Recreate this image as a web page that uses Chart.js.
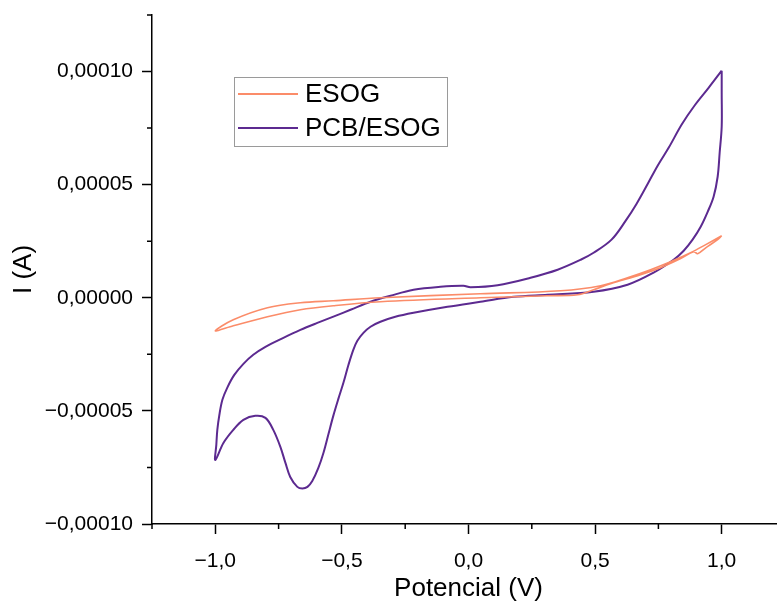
<!DOCTYPE html>
<html>
<head>
<meta charset="utf-8">
<title>Voltametria cíclica</title>
<script src="https://cdn.jsdelivr.net/npm/chart.js@4.4.1/dist/chart.umd.min.js"></script>
<style>
  html, body { margin: 0; padding: 0; background: #fff; overflow: hidden; }
  #wrap { width: 785px; height: 604px; }
</style>
</head>
<body>
<div id="wrap"><canvas id="cv" width="785" height="604"></canvas></div>
<script>
// Potential (V) and current (A) along the closed voltammogram of each electrode
const esogPotential = [1.000, 0.984, 0.937, 0.905, 0.889, 0.838, 0.759, 0.680, 0.561, 0.494, 0.431, 0.312, 0.047,
  -0.348, -0.534, -0.664, -0.794, -0.929, -1.000, -0.929, -0.794, -0.664, -0.534, -0.348, 0.047, 0.364, 0.522,
  0.628, 0.719, 0.798, 0.877, 0.937, 1.000];
const esogCurrent = [2.74e-5, 2.57e-5, 2.21e-5, 1.95e-5, 2.04e-5, 1.73e-5, 1.33e-5, 1.02e-5, 6.2e-6, 3.54e-6, 1.33e-6, 8.9e-7, 0,
  -1.77e-6, -3.54e-6, -5.31e-6, -8.41e-6, -1.24e-5, -1.46e-5, -9.74e-6, -4.43e-6, -2.21e-6, -1.33e-6, 0, 1.77e-6, 3.1e-6, 5.31e-6,
  8.85e-6, 1.24e-5, 1.59e-5, 1.99e-5, 2.35e-5, 2.74e-5];

const pcbPotential = [1.000, 1.000, 1.000, 0.992, 0.984, 0.968, 0.945, 0.917, 0.885, 0.850,
  0.810, 0.731, 0.628, 0.494, 0.312, 0.178, 0.047, -0.083, -0.217, -0.289,
  -0.348, -0.387, -0.415, -0.439, -0.455, -0.474, -0.494, -0.514, -0.534, -0.553,
  -0.573, -0.593, -0.617, -0.636, -0.656, -0.676, -0.704, -0.723, -0.743, -0.771,
  -0.802, -0.842, -0.889, -0.929, -0.968, -1.000, -0.996, -0.992, -0.984, -0.972,
  -0.953, -0.925, -0.889, -0.850, -0.802, -0.731, -0.664, -0.597, -0.526, -0.466,
  -0.387, -0.308, -0.217, -0.111, -0.020, 0.008, 0.115, 0.245, 0.352, 0.443,
  0.494, 0.565, 0.621, 0.664, 0.708, 0.747, 0.791, 0.842, 0.893, 0.949, 1.000];
const pcbCurrent = [1.004e-4, 9.07e-5, 7.57e-5, 6.42e-5, 5.35e-5, 4.47e-5, 3.81e-5, 3.14e-5, 2.57e-5, 2.08e-5,
  1.68e-5, 1.11e-5, 5.75e-6, 2.66e-6, 1.33e-6, 4.4e-7, -1.77e-6, -3.98e-6, -6.64e-6, -8.41e-6,
  -1.06e-5, -1.28e-5, -1.55e-5, -1.90e-5, -2.30e-5, -2.96e-5, -3.76e-5, -4.47e-5, -5.22e-5, -6.02e-5,
  -6.86e-5, -7.52e-5, -8.10e-5, -8.36e-5, -8.43e-5, -8.36e-5, -7.92e-5, -7.30e-5, -6.59e-5, -5.84e-5,
  -5.31e-5, -5.22e-5, -5.40e-5, -5.84e-5, -6.42e-5, -7.17e-5, -6.50e-5, -5.84e-5, -5.18e-5, -4.51e-5,
  -3.98e-5, -3.41e-5, -2.92e-5, -2.52e-5, -2.17e-5, -1.77e-5, -1.42e-5, -1.11e-5, -7.97e-6, -5.31e-6,
  -1.77e-6, 8.9e-7, 3.54e-6, 4.87e-6, 5.31e-6, 4.65e-6, 5.53e-6, 8.85e-6, 1.24e-5, 1.68e-5,
  1.99e-5, 2.57e-5, 3.41e-5, 4.16e-5, 5.04e-5, 5.84e-5, 6.64e-5, 7.66e-5, 8.50e-5, 9.29e-5, 1.004e-4];

const seriesNames = ['ESOG', 'PCB/ESOG'];
const xTicks = [-1.0, -0.5, 0.0, 0.5, 1.0];
const xMinorTicks = [-1.25, -0.75, -0.25, 0.25, 0.75, 1.25];
const yTicks = [-0.0001, -0.00005, 0, 0.00005, 0.0001];
const yMinorTicks = [-0.000075, -0.000025, 0.000025, 0.000075, 0.000125];

const FONT = "'Liberation Sans', Arial, sans-serif";
const COLORS = ['#fb8c69', '#5c2a90'];

function pairs(xs, ys) { return xs.map((x, i) => ({ x: x, y: ys[i] })); }
function decimalComma(v, digits) {
  const s = Math.abs(v).toFixed(digits).replace('.', ',');
  return (v < -1e-12 ? '\u2212' : '') + s;
}

// Minor tick marks on both axes plus the boxed legend inside the plot
const extras = {
  id: 'extras',
  afterDraw(chart) {
    const ctx = chart.ctx;
    const xs = chart.scales.x, ys = chart.scales.y;
    const area = chart.chartArea;
    ctx.save();
    ctx.strokeStyle = '#000';
    ctx.lineWidth = 1.5;
    ctx.beginPath();
    xMinorTicks.forEach(v => {
      const px = xs.getPixelForValue(v);
      ctx.moveTo(px, area.bottom); ctx.lineTo(px, area.bottom + 5);
    });
    yMinorTicks.forEach(v => {
      const py = ys.getPixelForValue(v);
      ctx.moveTo(area.left, py); ctx.lineTo(area.left - 5, py);
    });
    ctx.stroke();

    // legend
    const bx = 234.5, by = 77.5, bw = 213, bh = 69;
    ctx.strokeStyle = '#9a9a9a';
    ctx.lineWidth = 1;
    ctx.strokeRect(bx, by, bw, bh);
    ctx.font = '26px ' + FONT;
    ctx.textBaseline = 'middle';
    ctx.textAlign = 'left';
    chart.data.datasets.forEach((ds, i) => {
      const ly = 94 + i * 34;
      ctx.strokeStyle = ds.borderColor;
      ctx.lineWidth = 2;
      ctx.beginPath();
      ctx.moveTo(238, ly); ctx.lineTo(298, ly);
      ctx.stroke();
      ctx.fillStyle = '#000';
      ctx.fillText(ds.label, 305, ly + 1);
    });
    ctx.restore();
  }
};

new Chart(document.getElementById('cv'), {
  type: 'scatter',
  data: {
    datasets: [
      { label: seriesNames[0], data: pairs(esogPotential, esogCurrent), borderColor: COLORS[0],
        borderWidth: 1.6, showLine: true, pointRadius: 0, tension: 0.35, fill: false },
      { label: seriesNames[1], data: pairs(pcbPotential, pcbCurrent), borderColor: COLORS[1],
        borderWidth: 2, showLine: true, pointRadius: 0, tension: 0.35, fill: false }
    ]
  },
  options: {
    responsive: false,
    animation: false,
    devicePixelRatio: 1,
    layout: { padding: { top: 15, right: 0, left: 0, bottom: 0 } },
    plugins: { legend: { display: false }, tooltip: { enabled: false } },
    scales: {
      x: {
        type: 'linear', min: -1.25, max: 1.25,
        afterBuildTicks: s => { s.ticks = xTicks.map(v => ({ value: v })); },
        afterFit: s => { s.height = 80; s.paddingLeft = 0; s.paddingRight = 0; },
        grid: { display: true, drawOnChartArea: false, drawTicks: true, tickLength: 10, tickWidth: 1.5, tickColor: '#000' },
        border: { display: true, color: '#000', width: 1.5 },
        ticks: { color: '#000', font: { family: FONT, size: 21 }, padding: 15, maxRotation: 0,
          callback: v => decimalComma(v, 1) },
        title: { display: true, text: 'Potencial (V)', color: '#000', font: { family: FONT, size: 26 },
          padding: { top: 0, bottom: 0 } }
      },
      y: {
        type: 'linear', min: -0.0001, max: 0.000125,
        afterBuildTicks: s => { s.ticks = yTicks.map(v => ({ value: v })); },
        afterFit: s => { s.width = 152; s.paddingTop = 0; s.paddingBottom = 0; },
        grid: { display: true, drawOnChartArea: false, drawTicks: true, tickLength: 10, tickWidth: 1.5, tickColor: '#000' },
        border: { display: true, color: '#000', width: 1.5 },
        ticks: { color: '#000', font: { family: FONT, size: 21 }, padding: 9,
          callback: v => decimalComma(v, 5) },
        title: { display: true, text: 'I (A)', color: '#000', font: { family: FONT, size: 26 },
          padding: { top: 8, bottom: 0 } }
      }
    }
  },
  plugins: [extras]
});
</script>
</body>
</html>
